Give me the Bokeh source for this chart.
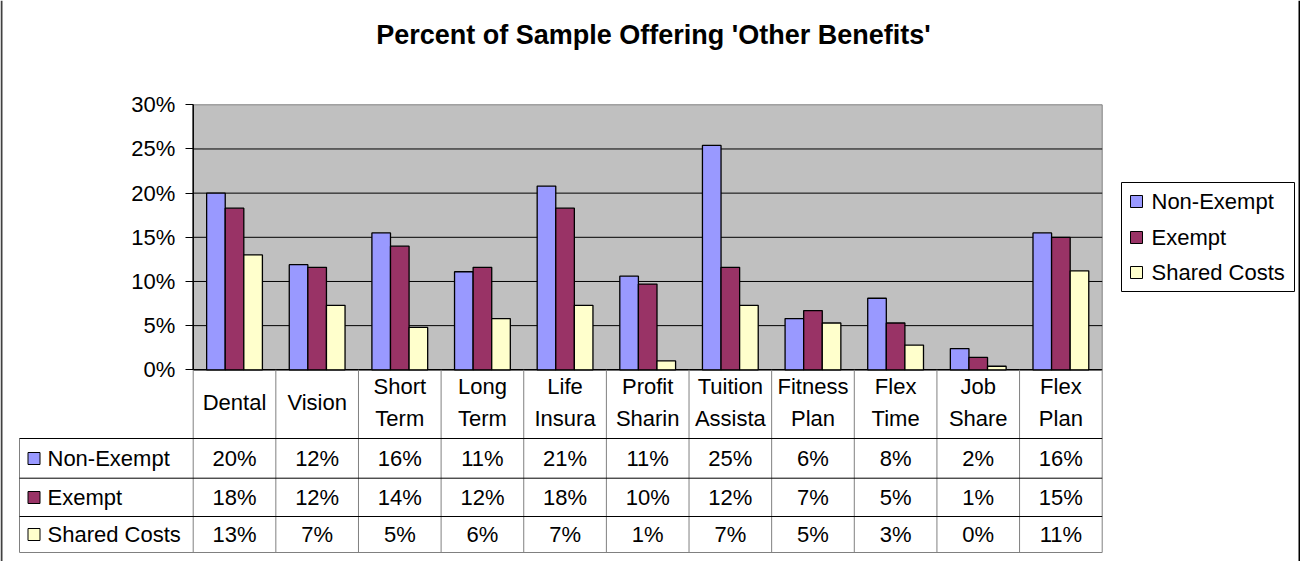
from bokeh.plotting import figure
from bokeh.models import Range1d, LinearAxis, FixedTicker, PrintfTickFormatter
from bokeh.core.properties import value
from bokeh.embed import file_html
from bokeh.resources import INLINE

# ---------------- data ----------------
title = "Percent of Sample Offering 'Other Benefits'"
categories = ["Dental", "Vision", "Short Term", "Long Term", "Life Insura",
              "Profit Sharin", "Tuition Assista", "Fitness Plan", "Flex Time",
              "Job Share", "Flex Plan"]
series = ["Non-Exempt", "Exempt", "Shared Costs"]
non_exempt = [20.0, 11.9, 15.5, 11.1, 20.8, 10.6, 25.4, 5.8, 8.1, 2.4, 15.5]
exempt = [18.3, 11.6, 14.0, 11.6, 18.3, 9.7, 11.6, 6.7, 5.3, 1.4, 15.0]
shared_costs = [13.0, 7.3, 4.8, 5.8, 7.3, 1.0, 7.3, 5.3, 2.8, 0.4, 11.2]
colors = ["#9999FF", "#993366", "#FFFFCC"]
y_ticks = [0, 5, 10, 15, 20, 25, 30]

values = [non_exempt, exempt, shared_costs]
FONT = value("Liberation Sans")
FS = "22px"

# ---------------- layout helpers (page pixels -> data units) ----------------
X0, XU = 200.7, 82.636   # page x of category axis start, px per category
Y0, YU = 377.3, 8.833    # page y of 0 %, px per percent


def px(x):
    return (x - X0) / XU


def py(y):
    return (Y0 - y) / YU


W, H = 1300, 561
n = len(categories)

p = figure(width=W, height=H, x_range=Range1d(px(8), px(8 + W)),
           y_range=Range1d(py(8 + H), py(8)), x_axis_type=None, y_axis_type=None,
           output_backend="svg", toolbar_location=None, min_border=0,
           outline_line_color=None, background_fill_color="white",
           border_fill_color="white")
p.xgrid.visible = False
p.ygrid.visible = False

# plot area
p.quad(left=[0], right=[n], bottom=[y_ticks[0]], top=[y_ticks[-1]],
       fill_color="#C0C0C0", line_color="#808080", line_width=1)
inner = y_ticks[1:-1]
p.segment(x0=[0] * len(inner), x1=[n] * len(inner), y0=inner, y1=inner,
          line_color="black", line_width=1)
p.segment(x0=[0], x1=[0], y0=[y_ticks[0]], y1=[y_ticks[-1]], line_color="black", line_width=1.5)
p.segment(x0=[0], x1=[n], y0=[0], y1=[0], line_color="black", line_width=1.5)

# bars
bw = 0.225
for k, (vals, col) in enumerate(zip(values, colors)):
    xs = [i + 0.5 + (k - 1) * bw for i in range(n)]
    p.vbar(x=xs, top=vals, bottom=0, width=bw, fill_color=col,
           line_color="black", line_width=1.3)

# y axis
yaxis = LinearAxis(fixed_location=0, ticker=FixedTicker(ticks=y_ticks, minor_ticks=[]),
                   formatter=PrintfTickFormatter(format="%d%%"),
                   axis_line_color=None, major_tick_in=0, major_tick_out=8,
                   major_tick_line_color="black", minor_tick_line_color=None,
                   major_label_standoff=10, major_label_text_font="Liberation Sans",
                   major_label_text_font_size=FS, major_label_text_color="black")
p.add_layout(yaxis, "left")

# ---------------- data table ----------------
row_edges = [446, 485.7, 524, 560]
row_centers = [466, 505, 542]
lab_left = px(27)
# vertical lines
p.segment(x0=list(range(n + 1)), x1=list(range(n + 1)), y0=[0] * (n + 1),
          y1=[py(row_edges[-1])] * (n + 1), line_color="#808080", line_width=1)
p.segment(x0=[lab_left], x1=[lab_left], y0=[py(row_edges[0])], y1=[py(row_edges[-1])],
          line_color="#808080", line_width=1)
# horizontal lines
p.segment(x0=[lab_left] * 3, x1=[n] * 3, y0=[py(e) for e in row_edges[:3]],
          y1=[py(e) for e in row_edges[:3]], line_color="black", line_width=1)
p.segment(x0=[lab_left], x1=[n], y0=[py(row_edges[3])], y1=[py(row_edges[3])],
          line_color="#808080", line_width=1)

# header (category names)
p.text(x=[i + 0.5 for i in range(n)], y=[py(410)] * n,
       text=[c.replace(" ", "\n") for c in categories], text_font=FONT,
       text_font_size=FS, text_align="center", text_baseline="middle",
       text_line_height=1.25, text_color="black")

# values
for vals, yc in zip(values, row_centers):
    p.text(x=[i + 0.5 for i in range(n)], y=[py(yc)] * n,
           text=[f"{int(v + 0.5)}%" for v in vals], text_font=FONT,
           text_font_size=FS, text_align="center", text_baseline="middle",
           text_color="black")

# row labels with keys
p.scatter(x=[px(41.5)] * 3, y=[py(yc) for yc in row_centers], marker="square",
          size=12, fill_color=colors, line_color="black", line_width=1)
p.text(x=[px(55)] * 3, y=[py(yc) for yc in row_centers], text=series,
       text_font=FONT, text_font_size=FS, text_align="left",
       text_baseline="middle", text_color="black")

# ---------------- legend ----------------
p.quad(left=[px(1129)], right=[px(1302)], top=[py(190)], bottom=[py(299)],
       fill_color="white", line_color="black", line_width=1)
leg_rows = [209, 245, 280]
p.scatter(x=[px(1144)] * 3, y=[py(r) for r in leg_rows], marker="square",
          size=12, fill_color=colors, line_color="black", line_width=1)
p.text(x=[px(1159)] * 3, y=[py(r) for r in leg_rows], text=series,
       text_font=FONT, text_font_size=FS, text_align="left",
       text_baseline="middle", text_color="black")

# ---------------- title ----------------
p.text(x=[px(661)], y=[py(42)], text=[title], text_font=FONT,
       text_font_size="27px", text_font_style="bold", text_align="center",
       text_baseline="middle", text_color="black")

# outer chart frame
p.segment(x0=[px(9), px(1307)], x1=[px(9), px(1307)], y0=[py(8), py(8)],
          y1=[py(8 + H), py(8 + H)], line_color=["#404040", "black"], line_width=2)

open("out.html", "w").write(file_html(p, INLINE))
